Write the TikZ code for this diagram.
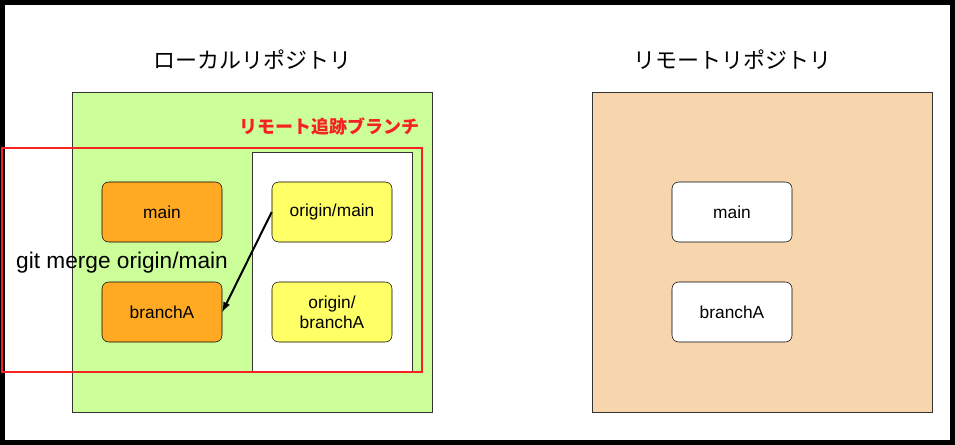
\documentclass[tikz,border=0pt]{standalone}
\usepackage{fontspec}
\setmainfont{Liberation Sans}
\newfontfamily\jpfont{Noto Sans CJK JP}
\usetikzlibrary{positioning}
\definecolor{localgreen}{HTML}{CCFF99}
\definecolor{remotepeach}{HTML}{F8D6AD}
\definecolor{branchorange}{HTML}{FFAA22}
\definecolor{trackyellow}{HTML}{FFFF66}
\definecolor{trackred}{HTML}{F42222}
\tikzset{
	repo/.style={draw=black!80, rectangle, anchor=north west},
	branch/.style={draw, rectangle, rounded corners=5pt, minimum width=120*0.75pt, minimum height=60*0.75pt, align=center, font=\fontsize{13}{15}\selectfont},
	title/.style={font=\jpfont\fontsize{16.5}{19}\selectfont},
}
\begin{document}
\begin{tikzpicture}[x=0.75pt, y=-0.75pt]
		\useasboundingbox (0,0) rectangle (955,445);
		\draw[line width=3.75pt] (2.5,2.5) rectangle (952.5,442.5);
		
		% local repository
		\node (ltitle) [title] at (252,60) {ローカルリポジトリ};
		\node (local) [repo, fill=localgreen, minimum width=360*0.75pt, minimum height=320*0.75pt] at (72,92) {};
		\node (track) [repo, fill=white, minimum width=160*0.75pt, minimum height=220*0.75pt] at (252,152) {};
		\node (lmain) [branch, fill=branchorange] at (162,212) {main};
		\node (lbranch) [branch, fill=branchorange] at (162,312) {branchA};
		\node (omain) [branch, fill=trackyellow] at (332,212) {origin/main};
		\node (obranch) [branch, fill=trackyellow] at (332,312) {origin/\\branchA};
		\draw[trackred, line width=1.7pt] (2,148) rectangle (422,372);
		\node (tracklabel) [anchor=east, text=trackred, font=\jpfont\bfseries\fontsize{13.5}{15}\selectfont] at (424,126) {リモート追跡ブランチ};
		\node (merge) [font=\fontsize{17}{20}\selectfont] at (122,263) {git merge origin/main};
		
		% remote repository
		\node (rtitle) [title] at (732,60) {リモートリポジトリ};
		\node (remote) [repo, fill=remotepeach, minimum width=340*0.75pt, minimum height=320*0.75pt] at (592,92) {};
		\node (rmain) [branch, fill=white] at (732,212) {main};
		\node (rbranch) [branch, fill=white] at (732,312) {branchA};
		
		\begin{scope}[line width=1.5pt, black, ->, >=latex]
			\draw (omain.west) -- (lbranch.east);
		\end{scope}
	\end{tikzpicture}
\end{document}
